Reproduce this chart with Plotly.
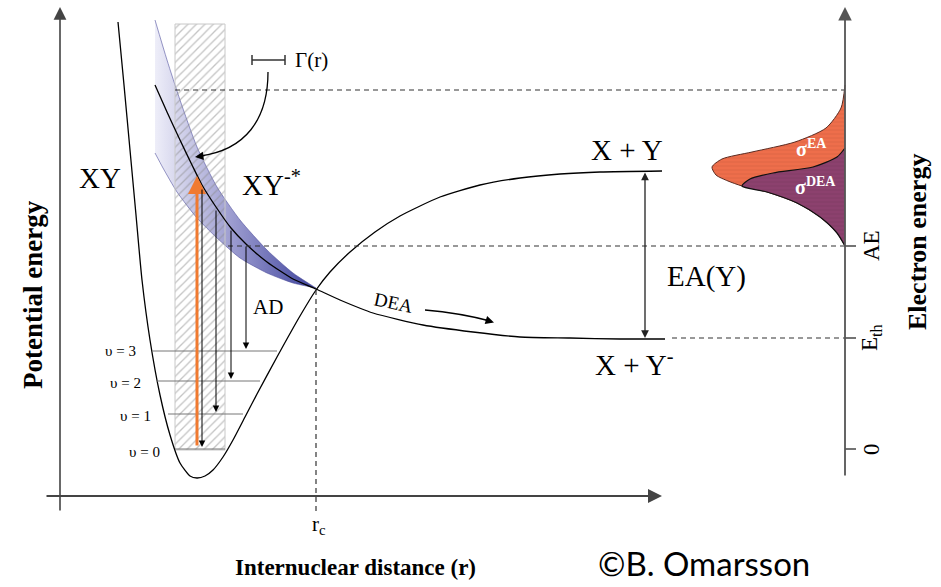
import plotly.graph_objects as go

# --- curve control points (r in px-like units, energy in px-like units, y grows downward) ---
xy_r = [118, 124, 130, 136, 142, 150, 160, 170, 180, 190, 197, 205, 213, 223, 233, 245, 257, 277, 300, 316, 330, 350, 375, 400, 440, 480, 520, 560, 600, 662]
xy_E = [22, 85, 150, 215, 280, 340, 395, 435, 463, 476, 478, 476, 470, 457, 440, 417, 394, 357, 316, 290, 272, 252, 232, 216, 197, 185, 178, 174, 172, 171]

xs_r = [155, 167, 180, 192, 202, 216, 231, 246, 267, 293, 316, 340, 373, 423, 473, 520, 570, 620, 665]
xs_E = [85, 112, 140, 165, 185, 207, 228, 244, 262, 279, 289, 300, 313, 325, 332, 337, 338, 339, 339]

band_up_r = [155, 167, 180, 197, 217, 240, 267, 293, 316]
band_up_E = [20, 60, 100, 147, 187, 220, 250, 273, 288]
band_lo_r = [155, 163, 177, 197, 217, 240, 267, 293, 316]
band_lo_E = [153, 168, 192, 218, 238, 258, 273, 283, 288]

# Franck-Condon region
fc_r = [175, 225]
fc_E = [24, 450]

# vibrational levels
v_labels = ["υ = 0", "υ = 1", "υ = 2", "υ = 3"]
v_E = [449, 414, 381, 351]
v_left = [175, 168, 157, 152]
v_right = [225, 243, 260, 277]
v_label_r = [162, 153, 143, 138]
v_label_E = [452, 416, 383, 351]

# autodetachment arrows
ad_r = [202, 216, 231, 246]
ad_top = [188, 209, 229, 245]
ad_bot = [447, 412, 379, 349]

# energy levels
E_top = 90
E_AE = 246
E_th = 338
E_zero = 449
E_XY = 171
r_c = 316

# cross-section profiles along the electron-energy axis
ea_r = [845, 841, 826, 795, 752, 722, 712, 716, 728, 742, 767, 797, 820, 837, 845]
ea_E = [85, 108, 128, 142, 152, 159, 167, 175, 181, 186, 192, 203, 217, 233, 246]
dea_r = [845, 837, 813, 773, 750, 742, 767, 797, 820, 837, 845]
dea_E = [148, 157, 167, 173, 179, 186, 192, 203, 217, 233, 246]

axis_x = 845

fig = go.Figure()

# resonance width band
fig.add_trace(go.Scatter(
    x=band_up_r + band_lo_r[::-1], y=band_up_E + band_lo_E[::-1],
    mode="lines", fill="toself", line=dict(color="rgba(70,70,150,0.7)", width=0.8, shape="spline", smoothing=0.6),
    fillgradient=dict(type="horizontal", colorscale=[[0, "rgba(236,236,248,0.9)"], [0.45, "rgba(150,150,205,0.9)"], [1, "rgba(50,55,150,0.95)"]]),
    hoverinfo="skip"))

# hatched Franck-Condon strip
fig.add_trace(go.Scatter(
    x=[fc_r[0], fc_r[1], fc_r[1], fc_r[0], fc_r[0]], y=[fc_E[0], fc_E[0], fc_E[1], fc_E[1], fc_E[0]],
    mode="lines", fill="toself", fillcolor="rgba(0,0,0,0)",
    fillpattern=dict(shape="/", fgcolor="#8a8a8a", size=6, solidity=0.22),
    line=dict(color="#c8c8c8", width=1), hoverinfo="skip"))

# potential curves
fig.add_trace(go.Scatter(x=xy_r, y=xy_E, mode="lines", line=dict(color="black", width=1.3, shape="spline", smoothing=0.6), hoverinfo="skip"))
fig.add_trace(go.Scatter(x=xs_r, y=xs_E, mode="lines", line=dict(color="black", width=1.3, shape="spline", smoothing=0.6), hoverinfo="skip"))

# cross sections
fig.add_trace(go.Scatter(x=ea_r, y=ea_E, mode="lines", fill="toself", fillcolor="#ee6e4b",
                         fillpattern=dict(shape="-", fgcolor="#c9573a", bgcolor="#ee6e4b", size=4, solidity=0.2),
                         line=dict(color="#5a2a20", width=1, shape="spline", smoothing=0.7), hoverinfo="skip"))
fig.add_trace(go.Scatter(x=dea_r, y=dea_E, mode="lines", fill="toself", fillcolor="#8c416e",
                         fillpattern=dict(shape="-", fgcolor="#73335a", bgcolor="#8c416e", size=4, solidity=0.2),
                         line=dict(color="#111111", width=1.2, shape="spline", smoothing=0.7), hoverinfo="skip"))

shapes = []
# vibrational levels
for E, a, b in zip(v_E, v_left, v_right):
    shapes.append(dict(type="line", x0=a, x1=b, y0=E, y1=E, line=dict(color="#777777", width=1)))
# dashed guides
dash = dict(color="#333333", width=1.2, dash="5px,4px")
shapes.append(dict(type="line", x0=fc_r[0], x1=axis_x, y0=E_top, y1=E_top, line=dash))
shapes.append(dict(type="line", x0=228, x1=axis_x, y0=E_AE, y1=E_AE, line=dash))
shapes.append(dict(type="line", x0=672, x1=axis_x, y0=E_th, y1=E_th, line=dash))
shapes.append(dict(type="line", x0=r_c, x1=r_c, y0=290, y1=512, line=dash))
# electron energy ticks
for E in [E_AE, E_th, E_zero]:
    shapes.append(dict(type="line", x0=axis_x, x1=856, y0=E, y1=E, line=dict(color="#444444", width=1.5)))
# Gamma(r) scale bar
shapes.append(dict(type="line", x0=252, x1=285, y0=60, y1=60, line=dict(color="#333333", width=1.5)))
shapes.append(dict(type="line", x0=252, x1=252, y0=55, y1=65, line=dict(color="#333333", width=1.5)))
shapes.append(dict(type="line", x0=285, x1=285, y0=55, y1=65, line=dict(color="#333333", width=1.5)))
# curved pointers
shapes.append(dict(type="path", path="M 268 72 C 268 120 245 150 200 156", line=dict(color="black", width=1.3)))
shapes.append(dict(type="path", path="M 425 310 Q 460 313 490 321", line=dict(color="black", width=1.3)))

ann = []

def arrow(x, y, ax, ay, color="black", width=1.0, size=1.0, head=2, side="end"):
    ann.append(dict(x=x, y=y, ax=ax, ay=ay, xref="x", yref="y", axref="x", ayref="y",
                    showarrow=True, arrowhead=head, arrowsize=size, arrowwidth=width,
                    arrowcolor=color, text="", arrowside=side, startarrowhead=head, startarrowsize=size))

# axes
arrow(60, 7, 60, 512, color="#444444", width=1.6, size=1.6)
arrow(662, 496, 45, 496, color="#444444", width=2, size=1.4)
arrow(axis_x, 7, axis_x, 477, color="#555555", width=1.8, size=1.5)
# excitation and autodetachment
arrow(197, 176, 197, 447, color="#f07a30", width=3, size=1.2)
for x, t, b in zip(ad_r, ad_top, ad_bot):
    arrow(x, b, x, t, width=1, size=1.3)
# EA(Y)
arrow(645, E_th, 645, E_XY, color="#222222", width=1.3, size=1.2, side="end+start")
# pointer heads
arrow(195, 157, 206, 155.5, width=1.3, size=1.3)
arrow(494, 322.5, 484, 319.5, width=1.3, size=1.3)

serif = "Liberation Serif"

def label(x, y, text, size, angle=0, color="black", family=serif, xanchor="center", yanchor="middle"):
    ann.append(dict(x=x, y=y, xref="x", yref="y", text=text, showarrow=False, textangle=angle,
                    font=dict(family=family, size=size, color=color), xanchor=xanchor, yanchor=yanchor))

label(100, 178, "XY", 29)
label(271, 183, "XY<sup>-*</sup>", 29)
label(627, 150, "X + Y", 29)
label(634, 363, "X + Y<sup>-</sup>", 29)
label(706, 276, "EA(Y)", 29)
label(268, 307, "AD", 21)
label(311, 60, "Γ(r)", 21)
label(393, 302, "DEA", 19, angle=12)
for t, x, y in zip(v_labels, v_label_r, v_label_E):
    label(x, y, t, 15, xanchor="right")
label(319, 525, "r<sub>c</sub>", 21)
label(33, 295, "<b>Potential energy</b>", 27, angle=-90)
label(355, 567, "<b>Internuclear distance (r)</b>", 23)
label(704, 585, "©B. Omarsson", 33, family="Lato", yanchor="bottom")
label(917, 242, "<b>Electron energy</b>", 26, angle=-90)
label(871, 246, "AE", 23, angle=-90)
label(871, 338, "E<sub>th</sub>", 23, angle=-90)
label(871, 449, "0", 23, angle=-90)
label(811, 148, "<b>σ<sup>EA</sup></b>", 20, color="white")
label(815, 186, "<b>σ<sup>DEA</sup></b>", 20, color="white")

fig.update_layout(
    width=941, height=587, margin=dict(l=0, r=0, t=0, b=0),
    paper_bgcolor="white", plot_bgcolor="white", showlegend=False,
    xaxis=dict(range=[0, 941], visible=False, fixedrange=True),
    yaxis=dict(range=[587, 0], visible=False, fixedrange=True),
    shapes=shapes, annotations=ann,
)

fig.write_html("out.html")
